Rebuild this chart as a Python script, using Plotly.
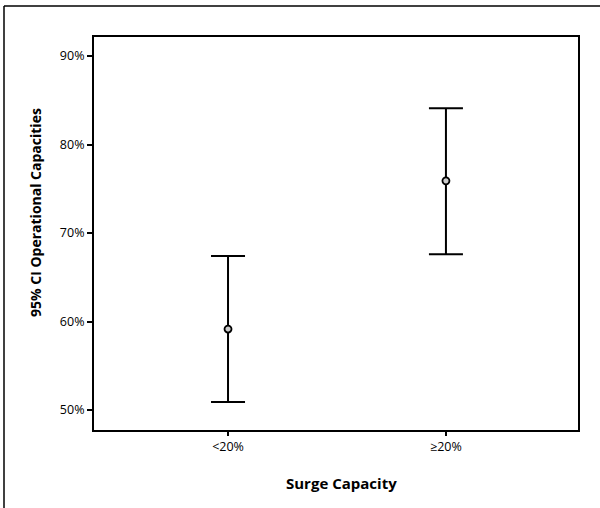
import plotly.graph_objects as go

categories = ["<20%", "\u226520%"]
means = [59.15, 75.9]
upper = [67.4, 84.1]
lower = [50.9, 67.6]
y_ticks = [50, 60, 70, 80, 90]
y_ticklabels = ["50%", "60%", "70%", "80%", "90%"]

err_plus = [u - m for u, m in zip(upper, means)]
err_minus = [m - l for m, l in zip(means, lower)]

FONT = "'Open Sans', Lato, sans-serif"

fig = go.Figure()
fig.add_trace(go.Scatter(
    x=list(range(len(categories))), y=means, mode="markers",
    marker=dict(symbol="circle", size=7, color="#cccccc", line=dict(color="black", width=1.8)),
    error_y=dict(type="data", symmetric=False, array=err_plus, arrayminus=err_minus,
                 color="black", thickness=2, width=17),
    showlegend=False, hoverinfo="skip",
))

fig.update_layout(
    width=600, height=508,
    margin=dict(l=94, r=22, t=37, b=78),
    paper_bgcolor="white", plot_bgcolor="white",
    font=dict(family=FONT, color="black", size=12.5),
    xaxis=dict(
        tickvals=list(range(len(categories))), ticktext=categories,
        range=[-0.615, 1.606], showgrid=False, zeroline=False,
        showline=True, linecolor="black", linewidth=2, mirror=True,
        ticks="outside", ticklen=4, tickwidth=1.5, tickcolor="black",
        tickfont=dict(size=12.5),
    ),
    yaxis=dict(
        tickvals=y_ticks, ticktext=y_ticklabels,
        range=[47.74, 92.15], showgrid=False, zeroline=False,
        showline=True, linecolor="black", linewidth=2, mirror=True,
        ticks="outside", ticklen=5, tickwidth=1.5, tickcolor="black",
        tickfont=dict(size=12.5),
    ),
    annotations=[
        dict(text="<b>Surge Capacity</b>", xref="paper", yref="paper",
             x=(341 - 94) / 484, y=0, yshift=-53, xanchor="center", yanchor="middle",
             showarrow=False, font=dict(size=15)),
        dict(text="<b>95% CI Operational Capacities</b>", xref="paper", yref="paper",
             x=0, xshift=35 - 94, y=(430 - 213) / 393, xanchor="center", yanchor="middle",
             textangle=-90, showarrow=False, font=dict(size=14)),
    ],
    shapes=[
        dict(type="line", xref="paper", yref="paper",
             x0=(4 - 94) / 484, x1=(600 - 94) / 484,
             y0=1 + (37 - 6) / 393, y1=1 + (37 - 6) / 393,
             line=dict(color="black", width=1.5)),
        dict(type="line", xref="paper", yref="paper",
             x0=(4 - 94) / 484, x1=(4 - 94) / 484,
             y0=1 + (37 - 6) / 393, y1=-(508 - 430) / 393,
             line=dict(color="black", width=1.5)),
    ],
)

fig.write_html("out.html", config={"displayModeBar": False},
               post_script="document.body.style.margin='0';")
